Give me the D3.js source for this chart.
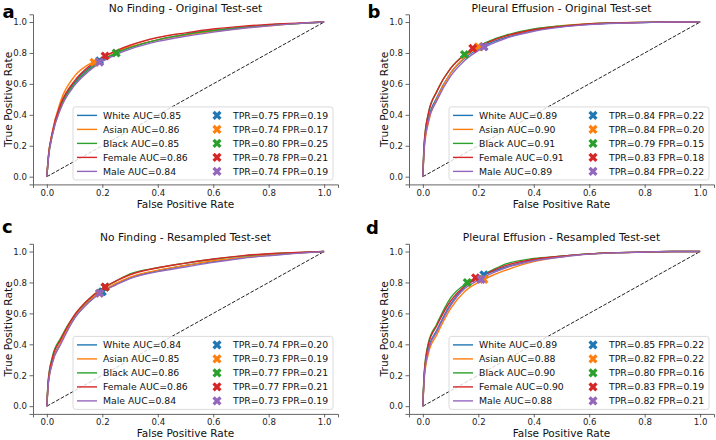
<!DOCTYPE html>
<html><head><meta charset="utf-8">
<script src="https://cdn.jsdelivr.net/npm/d3@7"></script>
<style>
html,body{margin:0;padding:0;background:#fff;}
svg{display:block;font-family:"DejaVu Sans",sans-serif;}
</style></head>
<body>
<svg id="chart" width="716" height="440"></svg>
<script>
// ---------------- data ----------------
const groups = ["White", "Asian", "Black", "Female", "Male"];
const fprGrid = [0, 0.005, 0.02, 0.05, 0.1, 0.15, 0.2, 0.25, 0.3, 0.4, 0.5, 0.6, 0.7, 0.8, 0.9, 1.0];
const ticks = [0.0, 0.2, 0.4, 0.6, 0.8, 1.0];

// panel a: No Finding - Original Test-set
const aucA = [0.85, 0.86, 0.85, 0.86, 0.84];
const opTprA = [0.75, 0.74, 0.80, 0.78, 0.74];
const opFprA = [0.19, 0.17, 0.25, 0.21, 0.19];
const rocA = [
  [0, 0.12, 0.28, 0.46, 0.61, 0.70, 0.755, 0.80, 0.835, 0.885, 0.92, 0.945, 0.965, 0.98, 0.99, 1],
  [0, 0.12, 0.29, 0.49, 0.65, 0.725, 0.77, 0.81, 0.84, 0.885, 0.915, 0.94, 0.96, 0.975, 0.99, 1],
  [0, 0.11, 0.27, 0.45, 0.60, 0.69, 0.75, 0.80, 0.835, 0.885, 0.92, 0.945, 0.965, 0.98, 0.99, 1],
  [0, 0.12, 0.29, 0.47, 0.62, 0.71, 0.77, 0.815, 0.85, 0.90, 0.93, 0.955, 0.972, 0.985, 0.993, 1],
  [0, 0.11, 0.27, 0.44, 0.59, 0.68, 0.745, 0.79, 0.825, 0.875, 0.908, 0.935, 0.958, 0.975, 0.99, 1]
];

// panel b: Pleural Effusion - Original Test-set
const aucB = [0.89, 0.90, 0.91, 0.91, 0.89];
const opTprB = [0.84, 0.84, 0.79, 0.83, 0.84];
const opFprB = [0.22, 0.20, 0.15, 0.18, 0.22];
const rocB = [
  [0, 0.20, 0.37, 0.51, 0.67, 0.765, 0.825, 0.87, 0.90, 0.945, 0.97, 0.985, 0.993, 0.997, 1, 1],
  [0, 0.18, 0.35, 0.50, 0.67, 0.77, 0.84, 0.88, 0.91, 0.952, 0.977, 0.99, 0.995, 0.998, 1, 1],
  [0, 0.22, 0.41, 0.55, 0.70, 0.79, 0.845, 0.885, 0.915, 0.955, 0.975, 0.988, 0.995, 0.998, 1, 1],
  [0, 0.22, 0.41, 0.55, 0.70, 0.785, 0.84, 0.88, 0.91, 0.95, 0.972, 0.987, 0.994, 0.998, 1, 1],
  [0, 0.19, 0.36, 0.49, 0.65, 0.75, 0.815, 0.86, 0.895, 0.94, 0.967, 0.983, 0.992, 0.997, 1, 1]
];

// panel c: No Finding - Resampled Test-set
const aucC = [0.84, 0.85, 0.86, 0.86, 0.84];
const opTprC = [0.74, 0.73, 0.77, 0.77, 0.73];
const opFprC = [0.20, 0.19, 0.21, 0.21, 0.19];
const rocC = [
  [0, 0.15, 0.29, 0.41, 0.57, 0.67, 0.74, 0.79, 0.83, 0.875, 0.91, 0.935, 0.96, 0.975, 0.99, 1],
  [0, 0.14, 0.28, 0.41, 0.58, 0.68, 0.745, 0.795, 0.835, 0.88, 0.91, 0.94, 0.96, 0.978, 0.99, 1],
  [0, 0.17, 0.32, 0.44, 0.59, 0.69, 0.76, 0.81, 0.855, 0.895, 0.925, 0.95, 0.97, 0.985, 0.993, 1],
  [0, 0.16, 0.31, 0.43, 0.59, 0.69, 0.76, 0.81, 0.85, 0.895, 0.925, 0.952, 0.972, 0.986, 0.994, 1],
  [0, 0.14, 0.28, 0.40, 0.57, 0.67, 0.74, 0.785, 0.825, 0.87, 0.90, 0.93, 0.955, 0.973, 0.988, 1]
];

// panel d: Pleural Effusion - Resampled Test-set
const aucD = [0.89, 0.88, 0.90, 0.90, 0.88];
const opTprD = [0.85, 0.82, 0.80, 0.83, 0.82];
const opFprD = [0.22, 0.22, 0.16, 0.19, 0.21];
const rocD = [
  [0, 0.20, 0.37, 0.49, 0.66, 0.77, 0.83, 0.87, 0.90, 0.945, 0.97, 0.985, 0.993, 0.997, 1, 1],
  [0, 0.18, 0.34, 0.46, 0.63, 0.74, 0.80, 0.845, 0.88, 0.935, 0.965, 0.985, 0.992, 0.997, 1, 1],
  [0, 0.22, 0.41, 0.53, 0.70, 0.785, 0.835, 0.88, 0.92, 0.955, 0.97, 0.985, 0.993, 0.997, 1, 1],
  [0, 0.21, 0.40, 0.52, 0.68, 0.775, 0.83, 0.875, 0.91, 0.95, 0.97, 0.985, 0.993, 0.997, 1, 1],
  [0, 0.19, 0.36, 0.48, 0.65, 0.76, 0.815, 0.86, 0.895, 0.94, 0.965, 0.983, 0.992, 0.997, 1, 1]
];

const titles = ["No Finding - Original Test-set", "Pleural Effusion - Original Test-set",
                "No Finding - Resampled Test-set", "Pleural Effusion - Resampled Test-set"];
const letters = ["a", "b", "c", "d"];

// ---------------- styles / layout ----------------
const palette = ["#1f77b4", "#ff7f0e", "#2ca02c", "#d62728", "#9467bd"];
const layout = [
  {left: 33, top: 14.3, letterX: 2.5, letterY: 18.3},
  {left: 409, top: 14.3, letterX: 367.5, letterY: 18.3},
  {left: 33, top: 243.8, letterX: 2, letterY: 232.5},
  {left: 409, top: 243.8, letterX: 366, letterY: 234}
];
const AX_W = 305, AX_H = 170.1;
const panelData = [
  {auc: aucA, tpr: opTprA, fpr: opFprA, roc: rocA},
  {auc: aucB, tpr: opTprB, fpr: opFprB, roc: rocB},
  {auc: aucC, tpr: opTprC, fpr: opFprC, roc: rocC},
  {auc: aucD, tpr: opTprD, fpr: opFprD, roc: rocD}
];

const svg = d3.select("#chart");
const xMark = d3.symbol().type(d3.symbolCross).size(52);

panelData.forEach((pd, pi) => {
  const L = layout[pi];
  const g = svg.append("g").attr("transform", `translate(${L.left},${L.top})`);
  const x = d3.scaleLinear().domain([-0.05, 1.05]).range([0, AX_W]);
  const y = d3.scaleLinear().domain([-0.05, 1.05]).range([AX_H, 0]);

  // axes
  const xAxis = g.append("g").attr("transform", `translate(0,${AX_H})`)
    .call(d3.axisBottom(x).tickValues(ticks).tickFormat(d3.format(".1f")).tickSizeOuter(0).tickSize(3.5).tickPadding(2));
  const yAxis = g.append("g")
    .call(d3.axisLeft(y).tickValues(ticks).tickFormat(d3.format(".1f")).tickSizeOuter(0).tickSize(3.5).tickPadding(2.5));
  [xAxis, yAxis].forEach(a => {
    a.select(".domain").attr("stroke", "#555").attr("stroke-width", 0.9);
    a.selectAll(".tick line").attr("stroke", "#555").attr("stroke-width", 0.9);
    a.selectAll(".tick text").attr("fill", "#222").style("font-size", "8.6px").style("font-family", "DejaVu Sans");
  });

  // diagonal
  g.append("line")
    .attr("x1", x(0)).attr("y1", y(0)).attr("x2", x(1)).attr("y2", y(1))
    .attr("stroke", "#222").attr("stroke-width", 1).attr("stroke-dasharray", "3.7,1.6");

  // curves
  const line = d3.line().x(d => x(d[0])).y(d => y(d[1])).curve(d3.curveMonotoneX);
  pd.roc.forEach((tprs, si) => {
    g.append("path")
      .datum(fprGrid.map((f, i) => [f, tprs[i]]))
      .attr("fill", "none").attr("stroke", palette[si]).attr("stroke-width", 1.4)
      .attr("d", line);
  });

  // operating points
  groups.forEach((grp, si) => {
    g.append("path")
      .attr("d", xMark)
      .attr("transform", `translate(${x(pd.fpr[si])},${y(pd.tpr[si])}) rotate(45)`)
      .attr("fill", palette[si]);
  });

  // labels
  g.append("text").attr("x", AX_W / 2).attr("y", AX_H + 23.6)
    .attr("text-anchor", "middle").style("font-size", "10.5px").attr("fill", "#111")
    .text("False Positive Rate");
  g.append("text").attr("transform", `translate(-21,${AX_H / 2}) rotate(-90)`)
    .attr("text-anchor", "middle").style("font-size", "10.7px").attr("fill", "#111")
    .text("True Positive Rate");
  g.append("text").attr("x", AX_W / 2).attr("y", -2.5)
    .attr("text-anchor", "middle").style("font-size", "10.7px").attr("fill", "#111")
    .text(titles[pi]);
  svg.append("text").attr("x", L.letterX).attr("y", L.letterY)
    .style("font-size", "18px").style("font-weight", "bold").attr("fill", "#000")
    .text(letters[pi]);

  // legend
  const LW = 260, LH = 73;
  const lg = g.append("g").attr("transform", `translate(${AX_W - 5 - LW},${AX_H - 4.5 - LH})`);
  lg.append("rect").attr("width", LW).attr("height", LH).attr("rx", 2.5)
    .attr("fill", "white").attr("fill-opacity", 0.8).attr("stroke", "#d6d6d6").attr("stroke-width", 0.9);
  groups.forEach((grp, si) => {
    const cy = 8.5 + si * 14;
    lg.append("line").attr("x1", 4).attr("x2", 24).attr("y1", cy).attr("y2", cy)
      .attr("stroke", palette[si]).attr("stroke-width", 1.4);
    lg.append("text").attr("x", 30).attr("y", cy).attr("dy", "0.35em")
      .style("font-size", "9.3px").attr("fill", "#111")
      .text(`${grp} AUC=${pd.auc[si].toFixed(2)}`);
    lg.append("path").attr("d", xMark)
      .attr("transform", `translate(${144},${cy}) rotate(45)`).attr("fill", palette[si]);
    lg.append("text").attr("x", 160).attr("y", cy).attr("dy", "0.35em")
      .style("font-size", "9.3px").attr("fill", "#111")
      .text(`TPR=${pd.tpr[si].toFixed(2)} FPR=${pd.fpr[si].toFixed(2)}`);
  });
});
</script>
</body></html>
